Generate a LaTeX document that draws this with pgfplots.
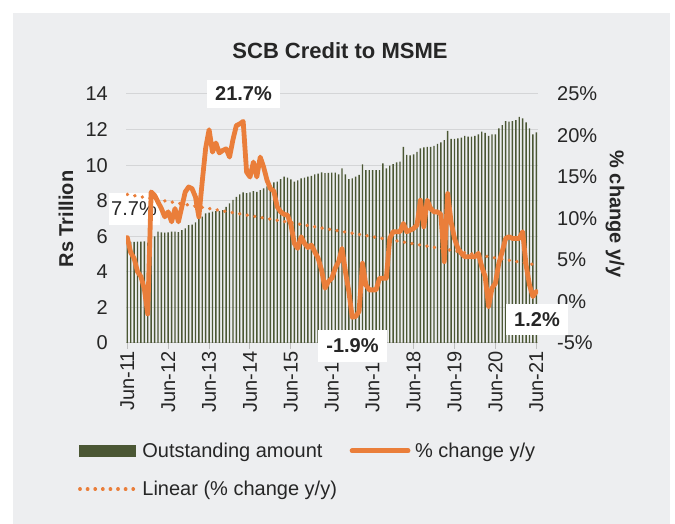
\documentclass[border=0pt]{standalone}
\usepackage{pgfplots}
\pgfplotsset{compat=1.18}
\usepackage{pgfplotstable}
\usepackage{fontspec}
\setmainfont{Liberation Sans}
\definecolor{panelbg}{HTML}{EDEEF0}
\definecolor{gridc}{HTML}{D4D5D7}
\definecolor{axisc}{HTML}{BFBFBF}
\definecolor{orangec}{HTML}{EA7E3A}
\definecolor{barc}{HTML}{4B5734}
\definecolor{txt}{HTML}{262626}

\pgfplotstableread{
m amt yoy
0 5.69 7.7
1 5.68 5.9
2 5.68 5.2
3 5.70 3.6
4 5.70 3.0
5 5.72 1.5
6 5.65 -1.5
7 6.05 13.2
8 6.00 12.8
9 6.26 12.0
10 6.22 11.2
11 6.20 10.2
12 6.22 10.8
13 6.26 9.6
14 6.26 11.2
15 6.24 9.6
16 6.35 11.4
17 6.45 13.2
18 6.63 13.8
19 6.66 13.6
20 6.78 12.6
21 7.00 10.2
22 7.10 14.5
23 7.29 18.5
24 7.33 20.7
25 7.38 18.0
26 7.42 19.1
27 7.42 17.9
28 7.47 18.2
29 7.65 18.4
30 7.85 17.4
31 8.04 19.5
32 8.22 21.2
33 8.36 21.4
34 8.47 21.7
35 8.42 15.6
36 8.47 15.0
37 8.54 16.8
38 8.50 15.0
39 8.60 17.4
40 8.70 16.2
41 8.80 14.6
42 8.88 13.6
43 9.03 13.3
44 9.07 11.4
45 9.22 10.8
46 9.35 10.5
47 9.30 10.4
48 9.20 9.3
49 9.07 7.0
50 9.15 6.4
51 9.26 7.8
52 9.30 7.0
53 9.35 6.5
54 9.40 6.8
55 9.48 6.0
56 9.52 5.2
57 9.59 3.8
58 9.55 1.6
59 9.57 2.4
60 9.58 2.8
61 9.58 4.0
62 9.48 4.8
63 9.82 6.4
64 9.48 3.6
65 9.22 1.2
66 9.25 -1.9
67 9.35 -1.8
68 9.45 -1.2
69 10.04 4.6
70 9.72 2.0
71 9.72 1.4
72 9.72 1.4
73 9.72 1.4
74 9.72 2.8
75 10.10 2.8
76 9.82 2.8
77 9.97 7.6
78 10.06 8.4
79 10.16 8.4
80 10.20 8.4
81 11.03 9.4
82 10.57 8.4
83 10.55 8.6
84 10.60 8.8
85 10.75 9.2
86 10.94 12.2
87 11.00 9.0
88 11.02 12.2
89 11.02 11.2
90 11.09 10.8
91 11.20 10.8
92 11.28 10.5
93 11.41 4.8
94 11.92 13.0
95 11.47 9.6
96 11.47 7.6
97 11.50 6.4
98 11.54 5.8
99 11.64 5.4
100 11.60 5.4
101 11.60 5.4
102 11.64 5.4
103 11.73 5.8
104 11.88 4.2
105 11.82 3.0
106 11.65 -0.6
107 11.73 1.6
108 11.73 2.2
109 12.07 4.6
110 12.25 6.0
111 12.48 7.6
112 12.45 7.8
113 12.48 7.6
114 12.53 7.6
115 12.72 7.6
116 12.63 8.4
117 12.40 4.4
118 12.07 2.0
119 11.73 0.6
120 11.84 1.2
}\data

\pgfplotsset{
  every tick label/.append style={font=\fontsize{20}{24}\selectfont, text=txt},
}

\begin{document}
\begin{tikzpicture}[x=1pt,y=1pt]
\fill[white] (0,0) rectangle (675,524);
\fill[panelbg] (13,0) rectangle (670,511);

\begin{axis}[
  at={(126pt,181pt)}, anchor=south west,
  scale only axis, width=412pt, height=249pt,
  xmin=-0.38, xmax=120.5, ymin=0, ymax=14,
  xtick={0,12,...,120},
  xticklabels={Jun-11,Jun-12,Jun-13,Jun-14,Jun-15,Jun-16,Jun-17,Jun-18,Jun-19,Jun-20,Jun-21},
  ytick={0,2,...,14},
  yticklabels={0,2,4,6,8,10,12,14},
  axis x line*=bottom, axis y line*=left,
  y axis line style={draw=none},
  x axis line style={draw=axisc, line width=1pt},
  ymajorgrids, grid style={draw=gridc, line width=1pt},
  tick align=outside, major tick length=6pt,
  xtick style={draw=axisc, line width=1pt},
  ytick style={draw=none},
  xticklabel style={rotate=90, anchor=east, inner sep=2pt},
  yticklabel style={anchor=east, inner sep=0pt, xshift=-12pt},
]
\addplot[ybar, bar width=1.4pt, fill=barc, draw=none] table[x=m, y=amt] {\data};
\end{axis}

\node[fill=white, minimum width=51pt, minimum height=32pt, inner sep=0pt, font=\fontsize{20}{24}\selectfont, text=txt] at (134,315) {7.7\%};

\begin{axis}[
  at={(126pt,181pt)}, anchor=south west,
  scale only axis, width=412pt, height=249pt,
  xmin=-0.38, xmax=120.5, ymin=-5, ymax=25,
  ytick={-5,0,...,25},
  yticklabels={-5\%,0\%,5\%,10\%,15\%,20\%,25\%},
  axis x line=none, axis y line*=right,
  y axis line style={draw=none}, ytick style={draw=none},
  yticklabel style={anchor=west, inner sep=0pt, xshift=19pt},
  legend columns=2,
  legend cell align=left,
  legend style={at={(-0.124,-0.385)}, anchor=north west, draw=none, fill=none,
    font=\fontsize{20}{24}\selectfont, text=txt, row sep=19pt,
    nodes={inner sep=1.7pt},
    /tikz/every even column/.append style={column sep=11pt},
    /tikz/every odd column/.append style={column sep=3pt}},
]
\addlegendimage{legend image code/.code={\fill[barc] (0pt,-5.5pt) rectangle (56pt,5.5pt);}}
\addlegendentry{Outstanding amount}
\addplot[orangec, line width=4.8pt, line join=round, line cap=round,
  legend image code/.code={\draw[orangec, line width=4.8pt, line cap=round] (2pt,0pt) -- (58pt,0pt);}]
  table[x=m, y=yoy] {\data};
\addlegendentry{\% change y/y}
\addplot[orangec, line width=3.6pt, line cap=round, dash pattern=on 0.2pt off 7.4pt,
  legend image code/.code={\draw[orangec, line width=3.6pt, line cap=round, dash pattern=on 0.2pt off 7.4pt] (1pt,0pt) -- (57pt,0pt);}]
  coordinates {(0,12.9) (120,4.4)};
\addlegendentry{Linear (\% change y/y)}
\end{axis}

\node[font=\bfseries\fontsize{22}{26}\selectfont, text=txt] at (340,473) {SCB Credit to MSME};
\node[rotate=90, font=\bfseries\fontsize{20}{24}\selectfont, text=txt] at (66,305) {Rs Trillion};
\node[rotate=-90, font=\bfseries\fontsize{20}{24}\selectfont, text=txt] at (615,310) {\% change y/y};

\node[fill=white, minimum width=73pt, minimum height=28pt, inner sep=0pt, font=\bfseries\fontsize{20}{24}\selectfont, text=txt] at (243.5,430) {21.7\%};
\node[fill=white, minimum width=69pt, minimum height=32pt, inner sep=0pt, font=\bfseries\fontsize{20}{24}\selectfont, text=txt] at (352.5,178) {-1.9\%};
\node[fill=white, minimum width=62pt, minimum height=31pt, inner sep=0pt, font=\bfseries\fontsize{20}{24}\selectfont, text=txt] at (537,204.5) {1.2\%};
\end{tikzpicture}
\end{document}
